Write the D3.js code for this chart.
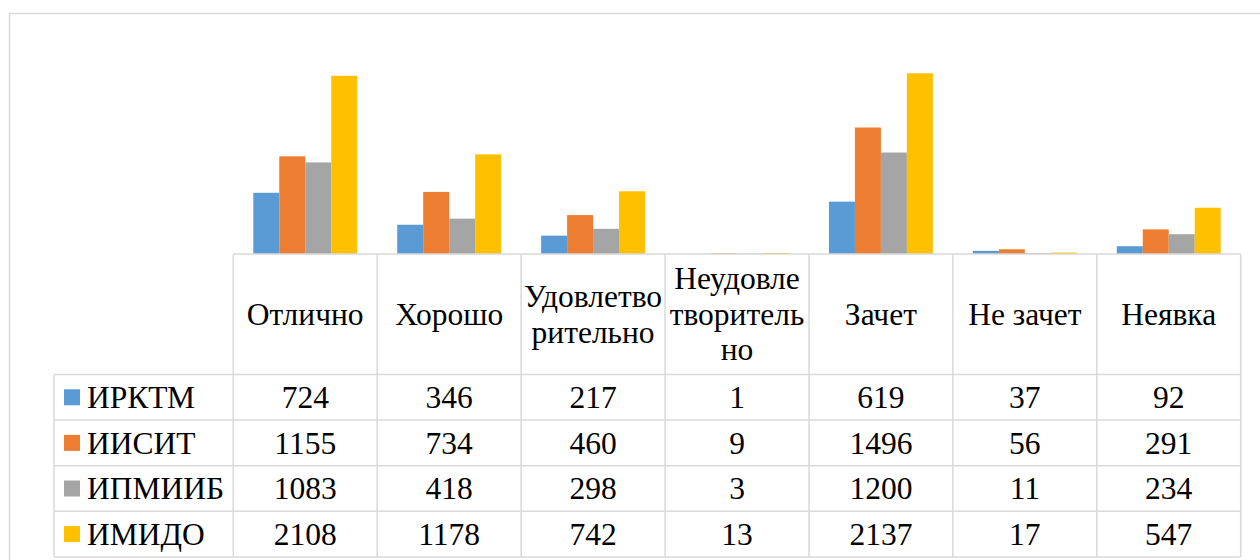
<!DOCTYPE html>
<html>
<head>
<meta charset="utf-8">
<script src="https://d3js.org/d3.v7.min.js"></script>
<style>
    body { margin: 0; background: #fff; }
</style>
</head>
<body>
<div id="chart"></div>
<script>
// данные по оценкам
const categories = ['Отлично', 'Хорошо', 'Удовлетворительно', 'Неудовлетворительно', 'Зачет', 'Не зачет', 'Неявка'];
// подписи в шапке таблицы (с переносами как в Excel)
const headerLabels = ['Отлично', 'Хорошо', 'Удовлетво\nрительно', 'Неудовле\nтворитель\nно', 'Зачет', 'Не зачет', 'Неявка'];
const seriesNames = ['ИРКТМ', 'ИИСИТ', 'ИПМИИБ', 'ИМИДО'];
const seriesColors = ['#5b9bd5', '#ed7d31', '#a5a5a5', '#ffc000'];

const irktm = [724, 346, 217, 1, 619, 37, 92];
const iisit = [1155, 734, 460, 9, 1496, 56, 291];
const ipmiib = [1083, 418, 298, 3, 1200, 11, 234];
const imido = [2108, 1178, 742, 13, 2137, 17, 547];
const seriesValues = [irktm, iisit, ipmiib, imido];

const W = 1260, H = 560;
const left = 233.3, right = 1240.7;
const baseY = 254, topY = 42.6;
const headerH = 120.5, rowH = 45.6;
const legendLeft = 54;
const gridColor = '#d9d9d9';
const fontSize = '31.5px';

const svg = d3.select('#chart').append('svg')
    .attr('width', W)
    .attr('height', H);

// рамка диаграммы
svg.append('rect')
    .attr('x', 9.5).attr('y', 13.5)
    .attr('width', 1400).attr('height', 700)
    .attr('fill', 'none')
    .attr('stroke', gridColor)
    .attr('stroke-width', 1.5);

const x0 = d3.scaleBand().domain(categories).range([left, right]).padding(0);
const x1 = d3.scaleBand().domain(seriesNames).range([0, x0.bandwidth()]).paddingInner(0).paddingOuter(0.77);
const y = d3.scaleLinear().domain([0, 2500]).range([baseY, topY]);

// столбцы
const groups = svg.append('g').selectAll('g')
    .data(categories)
    .join('g')
    .attr('transform', d => `translate(${x0(d)},0)`);

groups.selectAll('rect')
    .data((d, i) => seriesNames.map((s, j) => ({ s, v: seriesValues[j][i], c: seriesColors[j] })))
    .join('rect')
    .attr('x', d => x1(d.s))
    .attr('y', d => y(d.v))
    .attr('width', x1.bandwidth())
    .attr('height', d => y(0) - y(d.v))
    .attr('fill', d => d.c);

// таблица данных
const tbl = svg.append('g')
    .attr('stroke', gridColor)
    .attr('stroke-width', 1.5)
    .attr('fill', 'none');

const rowsTop = baseY + headerH;
const tableBottom = rowsTop + rowH * seriesNames.length;

tbl.append('line').attr('x1', left).attr('x2', right).attr('y1', baseY).attr('y2', baseY);
d3.range(seriesNames.length + 1).forEach(i => {
    const yy = rowsTop + i * rowH;
    tbl.append('line').attr('x1', legendLeft).attr('x2', right).attr('y1', yy).attr('y2', yy);
});
tbl.append('line').attr('x1', legendLeft).attr('x2', legendLeft).attr('y1', rowsTop).attr('y2', tableBottom);
categories.forEach(c => {
    tbl.append('line').attr('x1', x0(c)).attr('x2', x0(c)).attr('y1', baseY).attr('y2', tableBottom);
});
tbl.append('line').attr('x1', right).attr('x2', right).attr('y1', baseY).attr('y2', tableBottom);

// текст: шрифт задаём атрибутом и стилем, сразу меряем
function addText(x, yy, str, anchor) {
    const t = svg.append('text')
        .attr('x', x).attr('y', yy)
        .attr('font-family', 'Liberation Serif')
        .attr('font-size', fontSize)
        .style('font-family', '"Liberation Serif"')
        .style('font-size', fontSize)
        .attr('text-anchor', anchor)
        .text(str);
    t.node().getComputedTextLength();
    return t;
}

// шапка
const lineH = 35.5;
headerLabels.forEach((lbl, i) => {
    const lines = lbl.split('\n');
    const cx = x0(categories[i]) + x0.bandwidth() / 2;
    const cy = baseY + headerH / 2 + 10.5;
    lines.forEach((ln, k) => {
        addText(cx, cy + (k - (lines.length - 1) / 2) * lineH, ln, 'middle');
    });
});

// строки серий
seriesNames.forEach((s, j) => {
    const cy = rowsTop + j * rowH + rowH / 2;
    svg.append('rect')
        .attr('x', 64).attr('y', cy - 8)
        .attr('width', 16).attr('height', 16)
        .attr('fill', seriesColors[j]);
    addText(87, cy + 10.7, s, 'start');
    seriesValues[j].forEach((v, i) => {
        addText(x0(categories[i]) + x0.bandwidth() / 2, cy + 10.7, String(v), 'middle');
    });
});
</script>
</body>
</html>
